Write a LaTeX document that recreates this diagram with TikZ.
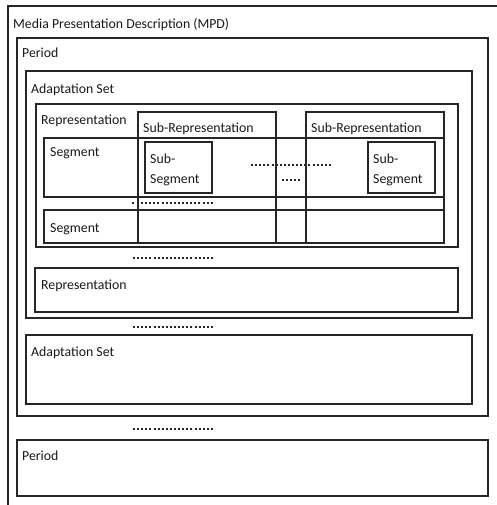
\documentclass[tikz,border=0pt]{standalone}
\usepackage{fontspec}
\setmainfont{Carlito}
\begin{document}
\begin{tikzpicture}[x=1pt,y=-1pt,
  box/.style={draw=black!85,line width=1.7pt},
  lbl/.style={anchor=base west,inner sep=0pt,font=\fontsize{13.8}{16}\selectfont,text=black!90},
  more/.style={draw=black!85,line width=2.5pt,dash pattern=on 2pt off 2.1pt}]
\useasboundingbox (0,0) rectangle (496,505);
% MPD frame, running off the right and bottom edges
\draw[box] (8,505) -- (8,6) -- (497,6);
\node[lbl] (mpd) at (13,29) {Media Presentation Description (MPD)};
% first period
\draw[box] (17,38) rectangle (488,416);
\node[lbl] (per1) at (22,58) {Period};
% first adaptation set
\draw[box] (26,71) rectangle (472,318);
\node[lbl] (as1) at (31,94) {Adaptation Set};
% first representation with sub-representations and segments
\draw[box] (36,104) rectangle (458,247);
\node[lbl] (rep1) at (41,125) {Representation};
\draw[box] (138,112) rectangle (276,243);
\node[lbl] (srep1) at (143,133) {Sub-Representation};
\draw[box] (306,112) rectangle (444,243);
\node[lbl] (srep2) at (311,133) {Sub-Representation};
\draw[box] (44,138) rectangle (444,197);
\node[lbl] (seg1) at (50,157) {Segment};
\draw[box] (44,210) rectangle (444,243);
\node[lbl] (seg2) at (50,232) {Segment};
\draw[box] (145,142) rectangle (212,193);
\node[lbl] (sseg1a) at (150,164) {Sub-};
\node[lbl] (sseg1b) at (150,183) {Segment};
\draw[box] (368,142) rectangle (435,193);
\node[lbl] (sseg2a) at (373,164) {Sub-};
\node[lbl] (sseg2b) at (373,183) {Segment};
% continuation marks
\coordinate (d1a) at (251,165); \coordinate (d1b) at (331,165);
\coordinate (d2a) at (282,180); \coordinate (d2b) at (300,180);
\coordinate (d3o) at (132,203); \coordinate (d3p) at (134,203);
\coordinate (d3a) at (141,203); \coordinate (d3b) at (213,203);
\coordinate (d4a) at (133,258); \coordinate (d4b) at (213,258);
\coordinate (d5a) at (133,327); \coordinate (d5b) at (213,327);
\coordinate (d6a) at (133,429); \coordinate (d6b) at (213,429);
\draw[more] (d1a) -- (d1b);
\draw[more] (d2a) -- (d2b);
\draw[more] (d3o) -- (d3p);
\draw[more] (d3a) -- (d3b);
\draw[more] (d4a) -- (d4b);
\draw[more] (d5a) -- (d5b);
\draw[more] (d6a) -- (d6b);
% second representation
\draw[box] (35,268) rectangle (458,312);
\node[lbl] (rep2) at (41,289) {Representation};
% second adaptation set
\draw[box] (26,335) rectangle (472,404);
\node[lbl] (as2) at (31,356) {Adaptation Set};
% second period
\draw[box] (17,440) rectangle (488,496);
\node[lbl] (per2) at (22,460) {Period};
\end{tikzpicture}
\end{document}
